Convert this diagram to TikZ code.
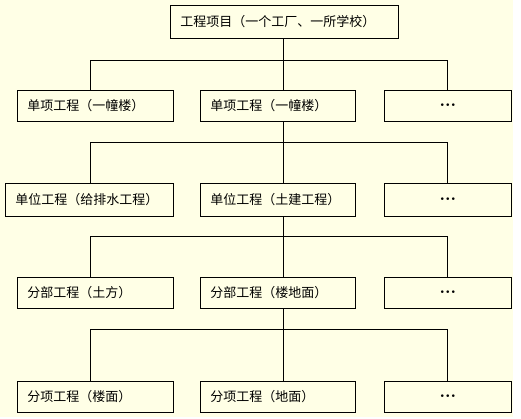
\documentclass[tikz,border=0pt]{standalone}
\usepackage{amsmath}
\usepackage{fontspec}
\newfontfamily\cjk{Noto Sans CJK SC}
\usetikzlibrary{positioning}
\definecolor{paper}{HTML}{FFFFE6}
\newcommand{\moredots}{{\fontsize{17}{17}\selectfont$\mathord{\boldsymbol{\cdot}}\mathord{\boldsymbol{\cdot}}\mathord{\boldsymbol{\cdot}}$}}

\begin{document}
\begin{tikzpicture}[
  x=1pt,y=-1pt,
  every node/.style={font=\cjk\fontsize{13}{15}\selectfont},
  cell/.style={draw=black,line width=0.8pt,fill=paper,anchor=north west,inner xsep=10pt,inner ysep=0pt,minimum height=31pt,text width=#1,align=left},
  more/.style={cell=#1,align=center},
  link/.style={line width=0.8pt,draw=black}
]
\useasboundingbox (0,0) rectangle (521,419);
\fill[white] (0,0) rectangle (521,419);
\fill[paper] (0,0) rectangle (513,417);

% columns and buses of the links
\coordinate (colA) at (90,0);
\coordinate (colB) at (283,0);
\coordinate (colC) at (447,0);
\coordinate (bus1) at (0,60);
\coordinate (bus2) at (0,142);
\coordinate (bus3) at (0,236);
\coordinate (bus4) at (0,329);

\node[cell=208pt,minimum height=33pt] (proj) at (170,5) {工程项目（一个工厂、一所学校）};

\node[cell=136pt] (a1) at (17,90) {单项工程（一幢楼）};
\node[cell=135pt] (b1) at (200,90) {单项工程（一幢楼）};
\node[more=107pt] (c1) at (384,90) {\moredots};

\node[cell=148pt,minimum height=33pt] (a2) at (5,183) {单位工程（给排水工程）};
\node[cell=135pt,minimum height=33pt] (b2) at (200,183) {单位工程（土建工程）};
\node[more=107pt,minimum height=33pt] (c2) at (384,183) {\moredots};

\node[cell=136pt] (a3) at (17,277) {分部工程（土方）};
\node[cell=135pt] (b3) at (200,277) {分部工程（楼地面）};
\node[more=107pt] (c3) at (384,277) {\moredots};

\node[cell=136pt] (a4) at (17,381) {分项工程（楼面）};
\node[cell=135pt] (b4) at (200,381) {分项工程（地面）};
\node[more=107pt] (c4) at (384,381) {\moredots};

% level 1
\draw[link] (colB |- proj.south) -- (colB |- bus1);
\draw[link] (colA |- a1.north) |- (colC |- bus1) -- (colC |- c1.north);
\draw[link] (colB |- bus1) -- (colB |- b1.north);
% level 2
\draw[link] (colB |- b1.south) -- (colB |- bus2);
\draw[link] (colA |- a2.north) |- (colC |- bus2) -- (colC |- c2.north);
\draw[link] (colB |- bus2) -- (colB |- b2.north);
% level 3
\draw[link] (colB |- b2.south) -- (colB |- bus3);
\draw[link] (colA |- a3.north) |- (colC |- bus3) -- (colC |- c3.north);
\draw[link] (colB |- bus3) -- (colB |- b3.north);
% level 4
\draw[link] (colB |- b3.south) -- (colB |- bus4);
\draw[link] (colA |- a4.north) |- (colC |- bus4) -- (colC |- c4.north);
\draw[link] (colB |- bus4) -- (colB |- b4.north);
\end{tikzpicture}
\end{document}
